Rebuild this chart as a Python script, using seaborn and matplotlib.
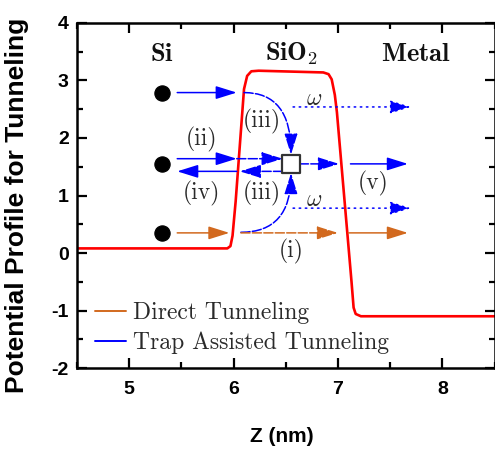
import matplotlib
matplotlib.use("Agg")
import matplotlib.pyplot as plt
import seaborn as sns
import pandas as pd
from matplotlib.ticker import MultipleLocator

# ================= DATOS =================
# perfil de potencial (rojo)
z_perfil = [4.5, 5.94, 5.97, 5.99, 6.02, 6.10, 6.13, 6.17, 6.24, 6.86, 6.91, 6.94, 6.97,
            6.99, 7.13, 7.15, 7.17, 7.22, 8.5]
v_perfil = [0.08, 0.08, 0.12, 0.30, 0.9, 2.85, 3.08, 3.16, 3.17, 3.14, 3.11, 3.02, 2.75,
            2.45, -0.50, -0.95, -1.06, -1.10, -1.10]

# electrones (puntos negros)
z_puntos = [5.31, 5.31, 5.31]
v_puntos = [2.79, 1.55, 0.35]

# trampa (cuadrado)
z_trampa = [6.55]
v_trampa = [1.55]

# flechas: (z_ini, v_ini, z_fin, v_fin, color, estilo, curva)
AZUL = "#0000FF"
NARANJA = "#D2691E"
RAYA = (0, (6, 1.5))
PUNTO = (0, (1, 3))
flechas = [
    (5.46, 2.79, 6.03, 2.79, AZUL, "-", False),
    (6.10, 2.79, 6.55, 1.71, AZUL, RAYA, True),
    (6.57, 2.54, 7.70, 2.54, AZUL, PUNTO, False),
    (5.46, 1.64, 6.03, 1.64, AZUL, "-", False),
    (6.03, 1.64, 6.47, 1.64, AZUL, RAYA, False),
    (6.47, 1.42, 6.06, 1.42, AZUL, RAYA, False),
    (6.03, 1.42, 5.46, 1.42, AZUL, "-", False),
    (6.63, 1.55, 7.01, 1.55, AZUL, RAYA, False),
    (7.12, 1.55, 7.67, 1.55, AZUL, "-", False),
    (6.57, 0.78, 7.70, 0.78, AZUL, PUNTO, False),
    (6.07, 0.36, 6.55, 1.39, AZUL, RAYA, True),
    (5.46, 0.35, 5.96, 0.35, NARANJA, "-", False),
    (6.07, 0.35, 7.00, 0.35, NARANJA, RAYA, False),
    (7.10, 0.35, 7.67, 0.35, NARANJA, "-", False),
]

# etiquetas
etiquetas = ["(iii)", "(ii)", "(iv)", "(iii)", "(i)", "(v)", r"$\omega$", r"$\omega$"]
z_etiq = [6.27, 5.69, 5.69, 6.27, 6.55, 7.34, 6.77, 6.77]
v_etiq = [2.28, 1.97, 1.04, 1.04, 0.03, 1.21, 2.68, 0.93]

regiones = [r"$\mathbf{Si}$", r"$\mathbf{SiO}_\mathbf{2}$", r"$\mathbf{Metal}$"]
z_regiones = [5.31, 6.56, 7.75]
v_regiones = [3.46, 3.46, 3.46]

leyenda = ["Direct Tunneling", "Trap Assisted Tunneling"]

# ================= ESTILO =================
sns.set_style("ticks")
plt.rcParams["font.family"] = ["Liberation Sans", "DejaVu Sans"]
plt.rcParams["font.weight"] = "bold"
plt.rcParams["mathtext.fontset"] = "cm"
plt.rcParams["axes.unicode_minus"] = False
for clave in ["text.color", "axes.labelcolor", "xtick.color", "ytick.color",
              "axes.edgecolor"]:
    plt.rcParams[clave] = "black"

fig = plt.figure(figsize=(4.95, 4.5), dpi=100)
ax = fig.add_axes([0.1556, 0.1822, 0.8434, 0.7667])

df = pd.DataFrame({"z": z_perfil, "v": v_perfil})
sns.lineplot(data=df, x="z", y="v", color="red", linewidth=1.9, sort=False, ax=ax,
             zorder=2)

for z0, v0, z1, v1, col, ls, curva in flechas:
    props = dict(arrowstyle="-|>,head_length=0.8,head_width=0.25", color=col,
                 lw=1.1, linestyle=ls, shrinkA=0, shrinkB=0, mutation_scale=16)
    if curva:
        props["connectionstyle"] = "angle3,angleA=0,angleB=90"
    ax.annotate("", xy=(z1, v1), xytext=(z0, v0), arrowprops=props, zorder=3)

sns.scatterplot(x=z_puntos, y=v_puntos, color="black", s=120, edgecolor="black",
                ax=ax, zorder=4)
sns.scatterplot(x=z_trampa, y=v_trampa, marker="s", s=150, color="white",
                edgecolor="#333333", linewidth=1.6, ax=ax, zorder=5)

for txt, zz, vv in zip(etiquetas, z_etiq, v_etiq):
    ax.text(zz, vv, txt, ha="center", va="center", fontsize=17, family="cmr10",
            fontweight="normal", color="#2a2a2a")
for txt, zz, vv in zip(regiones, z_regiones, v_regiones):
    ax.text(zz, vv, txt, ha="center", va="center", fontsize=19, color="#111111")

# leyenda
h1, = ax.plot([], [], color=NARANJA, lw=1.4)
h2, = ax.plot([], [], color=AZUL, lw=1.4)
ax.legend([h1, h2], leyenda, loc="lower left", bbox_to_anchor=(0.02, 0.012),
          frameon=False, prop={"family": "cmr10", "size": 17}, handlelength=1.3,
          handletextpad=0.3, labelspacing=0.33, borderaxespad=0.0,
          labelcolor="#2a2a2a")

ax.set_xlim(4.5, 8.5)
ax.set_ylim(-2, 4)
ax.xaxis.set_major_locator(MultipleLocator(1))
ax.xaxis.set_minor_locator(MultipleLocator(0.5))
ax.yaxis.set_major_locator(MultipleLocator(1))
ax.yaxis.set_minor_locator(MultipleLocator(0.5))
ax.tick_params(which="both", direction="in", top=True, right=True, width=1.6,
               labelsize=14, colors="black")
ax.tick_params(axis="x", pad=9)
ax.tick_params(axis="y", pad=6)
ax.tick_params(which="major", length=7)
ax.tick_params(which="minor", length=4)
for lab in ax.get_xticklabels() + ax.get_yticklabels():
    lab.set_fontweight("bold")
for s in ax.spines.values():
    s.set_linewidth(1.8)
    s.set_color("black")

ax.set_xlabel("Z (nm)", fontsize=15, fontweight="bold")
ax.xaxis.set_label_coords(0.49, -0.17)
ax.set_ylabel("Potential Profile for Tunneling", fontsize=19, fontweight="bold")
ax.yaxis.set_label_coords(-0.115, 0.47)

fig.savefig("out.png", dpi=100)
